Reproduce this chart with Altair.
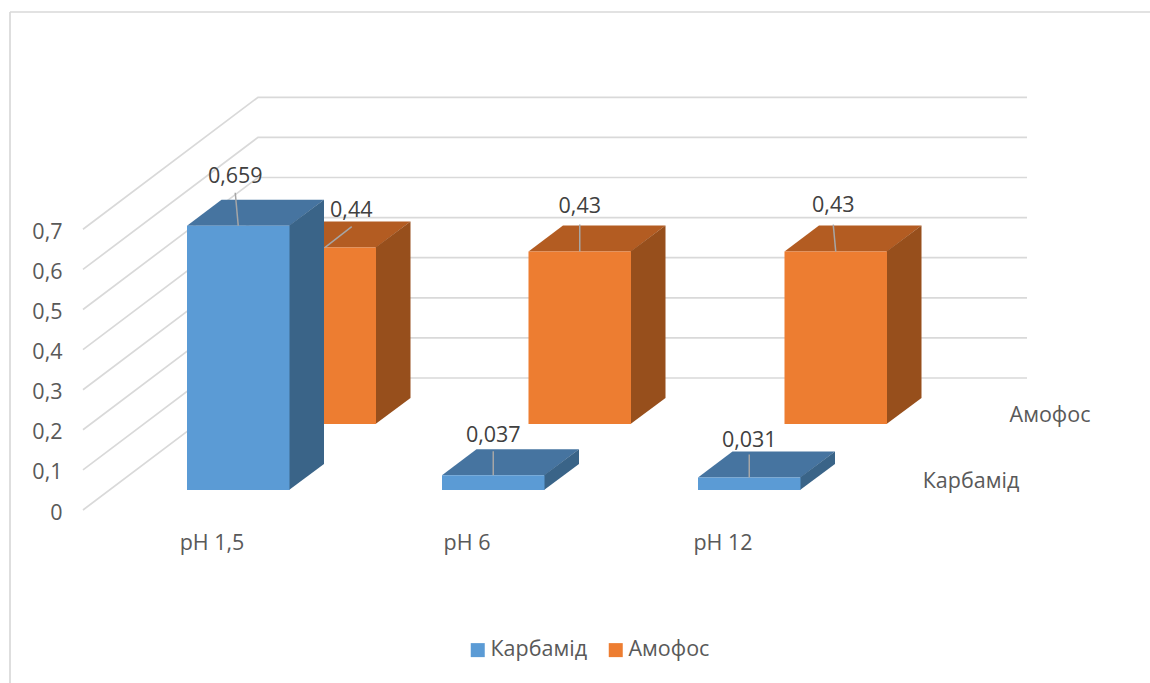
import altair as alt
import pandas as pd

# Chart data
categories = ["pH 1,5", "pH 6", "pH 12"]
series_names = ["Карбамід", "Амофос"]
karbamid = [0.659, 0.037, 0.031]
amofos = [0.44, 0.43, 0.43]
y_ticks = [0, 0.1, 0.2, 0.3, 0.4, 0.5, 0.6, 0.7]

# Oblique projection of the 3D scene, in pixels
W, H = 1150, 683
PX_PER_UNIT = 401.0
Y_ZERO = 510.0
WALL_DX, WALL_DY = 175.0, 132.0
BAR_W, BAR_DX, BAR_DY = 102.5, 34.5, 26.0
SLOT_LEFT = [187.0, 442.0, 698.0]
SERIES_STYLE = {
    "Карбамід": dict(shift=0.0, lift=20.0, front="#5B9BD5", top="#4674A0", side="#3A6488"),
    "Амофос": dict(shift=86.5, lift=86.0, front="#ED7D31", top="#B35C22", side="#974F1C"),
}
# Offsets of value labels from the top-centre of each front face
LABEL_NUDGE = {
    ("Карбамід", 0): (-3, 49), ("Карбамід", 1): (0, 39), ("Карбамід", 2): (0, 37),
    ("Амофос", 0): (26.5, 37), ("Амофос", 1): (0, 45), ("Амофос", 2): (-2.5, 46),
}
LEADER_START = {
    ("Карбамід", 0): (-3, 33), ("Карбамід", 1): (0, 24), ("Карбамід", 2): (0, 23),
    ("Амофос", 0): (27, 21), ("Амофос", 1): (0, 27), ("Амофос", 2): (-2.5, 27),
}
FONT = "Open Sans"
FONT_SIZE = 21.5
TEXT = "#595959"
DARK = "#404040"
GRID = "#D9D9D9"


def to_value(px):
    """Convert a pixel offset above the y = 0 line into value units."""
    return px / PX_PER_UNIT


x_scale = alt.Scale(domain=[0, W], nice=False, zero=False)
y_scale = alt.Scale(domain=[to_value(Y_ZERO - H), to_value(Y_ZERO)], nice=False, zero=False)
y_axis = alt.Axis(
    values=y_ticks,
    domain=False,
    ticks=False,
    grid=False,
    offset=-62,
    labelPadding=0,
    labelOffset=3,
    labelFont=FONT,
    labelFontSize=FONT_SIZE,
    labelColor=TEXT,
    labelExpr="datum.value == 0 ? '0' : replace(format(datum.value, '.1f'), '.', ',')",
)
X = alt.X("x:Q", scale=x_scale, axis=None)
Y = alt.Y("y:Q", scale=y_scale, title=None, axis=y_axis)

# Gridlines run up the side wall and along the back wall
grid_rows = []
for t in y_ticks:
    grid_rows += [
        {"tick": t, "step": 0, "x": 83.0, "y": t},
        {"tick": t, "step": 1, "x": 83.0 + WALL_DX, "y": t + to_value(WALL_DY)},
        {"tick": t, "step": 2, "x": 1027.0, "y": t + to_value(WALL_DY)},
    ]
grid = (
    alt.Chart(pd.DataFrame(grid_rows))
    .mark_line(color=GRID, strokeWidth=1.7)
    .encode(x=X, y=Y, order="step:Q", detail="tick:N")
)
frame_top = alt.Chart(pd.DataFrame({"a": [0]})).mark_rule(color=GRID, strokeWidth=1.7).encode(
    x=alt.value(10), x2=alt.value(W), y=alt.value(12)
)
frame_left = alt.Chart(pd.DataFrame({"a": [0]})).mark_rule(color=GRID, strokeWidth=1.7).encode(
    x=alt.value(10), y=alt.value(12), y2=alt.value(H)
)


def bar_layers(name, values):
    st = SERIES_STYLE[name]
    base = to_value(st["lift"])
    ddy = to_value(BAR_DY)
    fronts, sides, tops = [], [], []
    for i, (cat, v) in enumerate(zip(categories, values)):
        left = SLOT_LEFT[i] + st["shift"]
        right = left + BAR_W
        top = base + v
        fronts.append({"series": name, "category": cat, "value": v,
                       "x": left, "x2": right, "y": base, "y2": top})
        # The side face tucks slightly under the front face so no seam shows
        sides += [
            {"bar": i, "x": right - 0.5, "y": top, "y2": base},
            {"bar": i, "x": right + BAR_DX, "y": top + ddy, "y2": base + ddy},
        ]
        tops += [
            {"bar": i, "y": top, "x": left, "x2": right},
            {"bar": i, "y": top + ddy, "x": left + BAR_DX, "x2": right + BAR_DX},
        ]
    side = alt.Chart(pd.DataFrame(sides)).mark_area(color=st["side"]).encode(
        x=X, y=Y, y2="y2:Q", detail="bar:N"
    )
    cap = alt.Chart(pd.DataFrame(tops)).mark_area(color=st["top"], orient="horizontal").encode(
        y=Y, x=X, x2="x2:Q", detail="bar:N"
    )
    front = alt.Chart(pd.DataFrame(fronts)).mark_rect().encode(
        x=X,
        x2="x2:Q",
        y=Y,
        y2="y2:Q",
        color=alt.Color(
            "series:N",
            scale=alt.Scale(domain=series_names, range=[SERIES_STYLE[s]["front"] for s in series_names]),
            legend=alt.Legend(
                title=None,
                orient="none",
                legendX=467,
                legendY=639,
                direction="horizontal",
                symbolType="square",
                symbolSize=196,
                symbolStrokeWidth=0,
                symbolOpacity=1,
                columnPadding=18,
                labelFont=FONT,
                labelFontSize=FONT_SIZE,
                labelColor=TEXT,
                labelOffset=2,
                padding=0,
            ),
        ),
    )
    return [cap, side, front]


# Value labels with their thin leader lines
label_rows, leader_rows = [], []
for name, values in zip(series_names, [karbamid, amofos]):
    st = SERIES_STYLE[name]
    for i, v in enumerate(values):
        cx = SLOT_LEFT[i] + st["shift"] + BAR_W / 2
        top = to_value(st["lift"]) + v
        nx, ny = LABEL_NUDGE[(name, i)]
        sx, sy = LEADER_START[(name, i)]
        label_rows.append({"x": cx + nx, "y": top + to_value(ny),
                           "text": str(v).replace(".", ",")})
        leader_rows += [
            {"leader": f"{name}{i}", "step": 0, "x": cx + sx, "y": top + to_value(sy)},
            {"leader": f"{name}{i}", "step": 1, "x": cx, "y": top},
        ]
leaders = alt.Chart(pd.DataFrame(leader_rows)).mark_line(color="#A6A6A6", strokeWidth=1.5).encode(
    x=X, y=Y, order="step:Q", detail="leader:N"
)
value_labels = alt.Chart(pd.DataFrame(label_rows)).mark_text(
    font=FONT, fontSize=FONT_SIZE, color=DARK, align="center", baseline="middle"
).encode(x=X, y=Y, text="text:N")

# Category labels under the front row and series labels along the depth axis
cat_labels = alt.Chart(pd.DataFrame({
    "x": [s + 25 for s in SLOT_LEFT],
    "y": [to_value(Y_ZERO - 544)] * 3,
    "text": categories,
})).mark_text(font=FONT, fontSize=FONT_SIZE, color=TEXT, align="center", baseline="middle").encode(
    x=X, y=Y, text="text:N"
)
depth_labels = alt.Chart(pd.DataFrame({
    "x": [971.0, 1050.0],
    "y": [to_value(Y_ZERO - 481.5), to_value(Y_ZERO - 415.5)],
    "text": series_names,
})).mark_text(font=FONT, fontSize=FONT_SIZE, color=TEXT, align="center", baseline="middle").encode(
    x=X, y=Y, text="text:N"
)

chart = alt.layer(
    frame_top,
    frame_left,
    grid,
    *bar_layers("Амофос", amofos),
    *bar_layers("Карбамід", karbamid),
    leaders,
    value_labels,
    cat_labels,
    depth_labels,
).properties(
    width=W,
    height=H,
    padding=0,
    autosize=alt.AutoSizeParams(type="none", contains="content"),
    background="white",
).configure_view(stroke=None)

chart.save("out.html", embed_options={"renderer": "svg", "actions": False})
